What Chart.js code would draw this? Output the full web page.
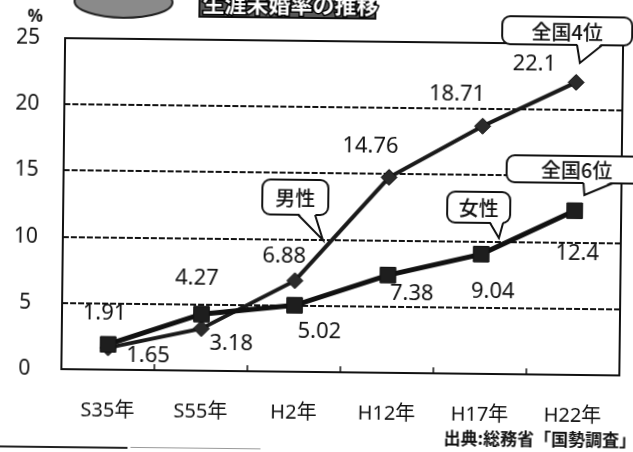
<!DOCTYPE html>
<html lang="ja">
<head>
<meta charset="utf-8">
<title>生涯未婚率の推移</title>
<script src="https://cdn.jsdelivr.net/npm/chart.js@4.4.1/dist/chart.umd.min.js"></script>
<style>
  html, body { margin: 0; padding: 0; background: #fff; overflow: hidden; }
  #wrap { width: 633px; height: 452px; }
  /* 元画像はスキャンで少し傾いている */
  #chart { transform: rotate(0.65deg); transform-origin: 50% 50%; }
</style>
</head>
<body>
<div id="wrap"><canvas id="chart" width="633" height="452"></canvas></div>
<script>
// データ（生涯未婚率 %）
const categories = ['S35年', 'S55年', 'H2年', 'H12年', 'H17年', 'H22年'];
const maleRates = [1.65, 3.18, 6.88, 14.76, 18.71, 22.1];
const femaleRates = [1.91, 4.27, 5.02, 7.38, 9.04, 12.4];
const yTicks = [0, 5, 10, 15, 20, 25];

const FONT = "'Noto Sans', 'Noto Sans CJK JP', sans-serif";
const JP_FONT = "'Noto Sans CJK JP', sans-serif";

// ラベルの位置ずらし（点からのピクセル）
const maleLabelOffsets = [[40, 8], [30, 15], [-11, -24], [-19, -31], [-26, -32], [-42, -18]];
const femaleLabelOffsets = [[-4, -31], [-5, -36], [25, 26], [24, 18], [12, 37], [3, 43]];

// 吹き出しを描く
function drawCallout(ctx, x, y, w, h, tail, text) {
    const r = 8;
    ctx.save();
    ctx.lineWidth = 2;
    ctx.strokeStyle = '#111';
    ctx.fillStyle = '#fff';
    ctx.beginPath();
    ctx.roundRect(x, y, w, h, r);
    ctx.fill();
    ctx.stroke();
    // しっぽ
    const [ax, bx, tx, ty] = tail;
    const by = y + h;
    ctx.beginPath();
    ctx.moveTo(ax, by - 2);
    ctx.lineTo(tx, ty);
    ctx.lineTo(bx, by - 2);
    ctx.closePath();
    ctx.fill();
    ctx.beginPath();
    ctx.moveTo(ax, by);
    ctx.lineTo(tx, ty);
    ctx.lineTo(bx, by);
    ctx.stroke();
    ctx.fillStyle = '#111';
    ctx.font = '500 20px ' + JP_FONT;
    ctx.textAlign = 'center';
    ctx.textBaseline = 'middle';
    ctx.fillText(text, x + w / 2, y + h / 2 + 1);
    ctx.restore();
}

const decorPlugin = {
    id: 'decor',
    beforeDatasetsDraw(chart) {
        const { ctx, chartArea: a, scales } = chart;
        ctx.save();
        // 枠線
        ctx.strokeStyle = '#111';
        ctx.lineWidth = 2;
        ctx.setLineDash([]);
        ctx.strokeRect(a.left, a.top, a.right - a.left, a.bottom - a.top);
        // 区切りの小さい目盛り
        const xs = scales.x;
        ctx.lineWidth = 1.5;
        for (let i = 1; i < categories.length; i++) {
            const px = (xs.getPixelForTick(i - 1) + xs.getPixelForTick(i)) / 2;
            ctx.beginPath();
            ctx.moveTo(px, a.bottom);
            ctx.lineTo(px, a.bottom - 6);
            ctx.stroke();
        }
        ctx.restore();
    },
    afterDatasetsDraw(chart) {
        const { ctx } = chart;
        ctx.save();
        ctx.fillStyle = '#111';
        ctx.font = '22px ' + FONT;
        ctx.textAlign = 'center';
        ctx.textBaseline = 'middle';
        const sets = [[maleRates, maleLabelOffsets, 0], [femaleRates, femaleLabelOffsets, 1]];
        sets.forEach(([vals, offs, di]) => {
            chart.getDatasetMeta(di).data.forEach((pt, i) => {
                ctx.fillText(String(vals[i]), pt.x + offs[i][0], pt.y + offs[i][1]);
            });
        });
        ctx.restore();

        // 吹き出し
        drawCallout(ctx, 262, 180, 66, 35, [298, 315, 323, 240], '男性');
        drawCallout(ctx, 447, 190, 63, 31, [490, 503, 499, 236], '女性');
        drawCallout(ctx, 500, 14, 130, 28, [575, 600, 578, 60], '全国4位');
        drawCallout(ctx, 506, 153, 140, 27, [583, 612, 584, 192], '全国6位');
    },
    afterDraw(chart) {
        const { ctx } = chart;
        ctx.save();
        // 上のバッジ（切れている）
        ctx.fillStyle = '#8a8a8a';
        ctx.strokeStyle = '#222';
        ctx.lineWidth = 2;
        ctx.beginPath();
        ctx.ellipse(121, 4, 49, 16, 0, 0, Math.PI * 2);
        ctx.fill();
        ctx.stroke();
        // タイトル（上が切れている）
        ctx.fillStyle = '#5a5a5a';
        ctx.fillRect(197, -4, 176, 22);
        ctx.lineWidth = 2;
        ctx.strokeStyle = '#111';
        ctx.strokeRect(197, -4, 176, 22);
        ctx.font = 'bold 22px ' + JP_FONT;
        ctx.textAlign = 'left';
        ctx.textBaseline = 'alphabetic';
        ctx.lineWidth = 3;
        ctx.strokeStyle = '#000';
        ctx.strokeText('生涯未婚率の推移', 200, 13);
        ctx.fillStyle = '#fff';
        ctx.fillText('生涯未婚率の推移', 200, 13);
        // 単位
        ctx.fillStyle = '#111';
        ctx.font = 'bold 17px ' + FONT;
        ctx.textAlign = 'center';
        ctx.textBaseline = 'middle';
        ctx.fillText('%', 33, 20);
        // 出典
        ctx.font = 'bold 17px ' + JP_FONT;
        ctx.textAlign = 'left';
        ctx.fillText('出典:総務省「国勢調査」', 446, 437);
        // 下の線
        ctx.fillStyle = '#222';
        ctx.fillRect(0, 449, 130, 2);
        ctx.fillStyle = '#999';
        ctx.fillRect(133, 449, 130, 1);
        ctx.restore();
    }
};

const ctx = document.getElementById('chart').getContext('2d');
new Chart(ctx, {
    type: 'line',
    data: {
        labels: categories,
        datasets: [
            {
                label: '男性',
                data: maleRates,
                borderColor: '#1a1a1a',
                borderWidth: 4,
                pointStyle: 'rectRot',
                pointRadius: 8,
                pointBackgroundColor: '#2a2a2a',
                pointBorderColor: '#111',
                pointBorderWidth: 1,
                tension: 0,
                order: 2,
            },
            {
                label: '女性',
                data: femaleRates,
                borderColor: '#111',
                borderWidth: 5,
                pointStyle: 'rect',
                pointRadius: 11,
                pointBackgroundColor: '#1e1e1e',
                pointBorderColor: '#111',
                pointBorderWidth: 1,
                tension: 0,
                order: 1,
            },
        ],
    },
    options: {
        responsive: false,
        animation: false,
        layout: { padding: { top: 41, right: 8, left: 0, bottom: 0 } },
        plugins: {
            legend: { display: false },
            tooltip: { enabled: false },
        },
        scales: {
            x: {
                offset: true,
                grid: { display: false },
                border: { display: false },
                ticks: {
                    color: '#111',
                    font: { family: FONT, size: 20 },
                    padding: 21,
                    maxRotation: 0,
                },
                afterFit(scale) { scale.height = 80; },
            },
            y: {
                min: yTicks[0],
                max: yTicks[yTicks.length - 1],
                afterBuildTicks(scale) { scale.ticks = yTicks.map(v => ({ value: v })); },
                grid: { color: '#111', lineWidth: 2, drawTicks: false },
                border: { display: false, dash: [6, 2] },
                ticks: {
                    color: '#111',
                    font: { family: FONT, size: 21 },
                    padding: 25,
                    crossAlign: 'center',
                },
                afterFit(scale) { scale.width = 63; },
            },
        },
    },
    plugins: [decorPlugin],
});
</script>
</body>
</html>
